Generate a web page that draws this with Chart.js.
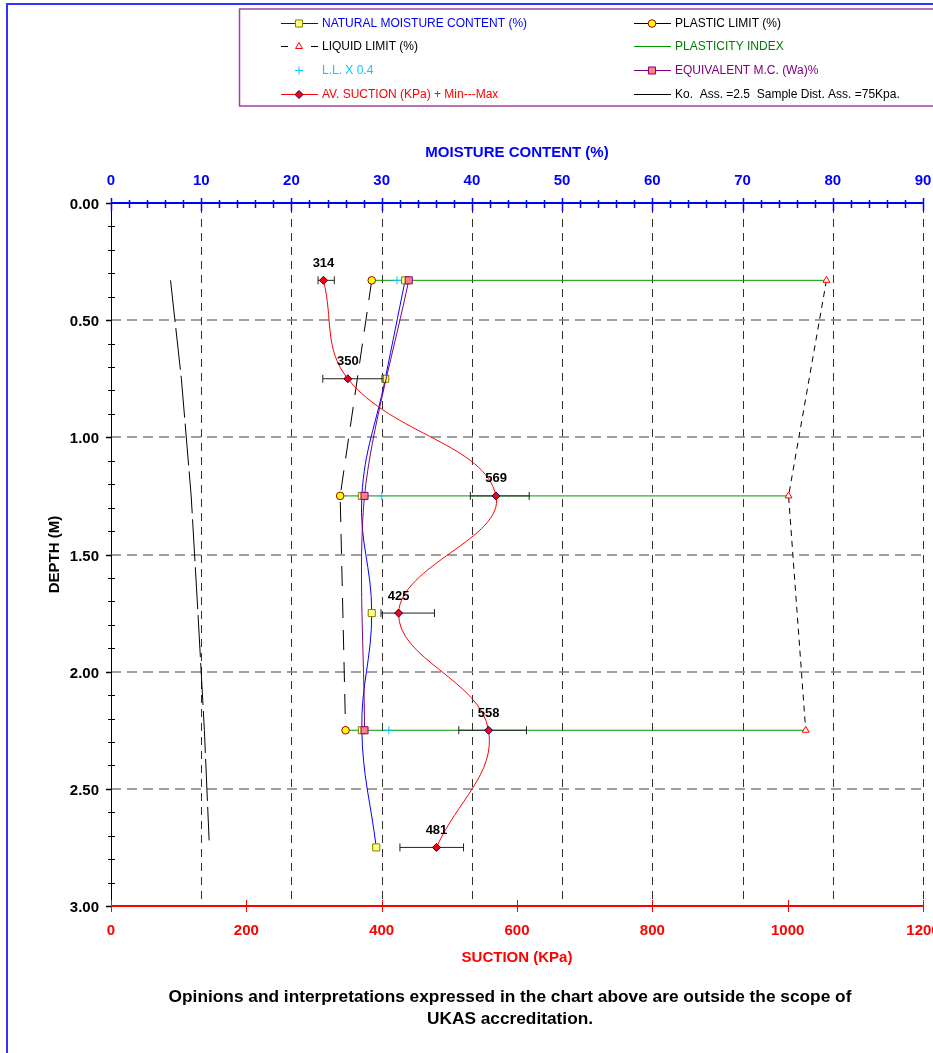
<!DOCTYPE html>
<html><head><meta charset="utf-8">
<script src="https://cdn.jsdelivr.net/npm/chart.js@4.4.0/dist/chart.umd.min.js"></script>
<style>html,body{margin:0;padding:0;background:#fff;overflow:hidden}canvas{display:block}</style>
</head><body>
<canvas id="c" width="933" height="1053"></canvas>
<script>
// ---- data ----
const DEPTHS = [0.33, 0.75, 1.25, 1.75, 2.25, 2.75];
const NMC = [32.6, 30.4, 27.8, 28.9, 27.8, 29.4];
const LIMIT_DEPTHS = [0.33, 1.25, 2.25];
const PLASTIC_LIMIT = [28.9, 25.4, 26.0];
const LIQUID_LIMIT = [79.3, 75.1, 77.0];
const LL_X04 = [31.7, 30.0, 30.8];
const EMC = [33.0, 28.1, 28.1];
const SUCTION = [314, 350, 569, 425, 558, 481];
const SUCTION_MIN = [306, 313, 531, 399, 514, 427];
const SUCTION_MAX = [330, 402, 618, 478, 614, 521];
const KO_DEPTHS = [0.33, 0.75, 1.25, 1.75, 2.25, 2.72];
const KO_SUCTION = [88, 104, 118.5, 128.5, 138, 145];
const MC_TICKS = [0, 10, 20, 30, 40, 50, 60, 70, 80, 90];
const SUCTION_TICKS = [0, 200, 400, 600, 800, 1000, 1200];
const DEPTH_TICKS = [0, 0.5, 1.0, 1.5, 2.0, 2.5, 3.0];
const DEPTH_TICK_LABELS = ['0.00', '0.50', '1.00', '1.50', '2.00', '2.50', '3.00'];

const FONT = '"Liberation Sans", Arial, sans-serif';
const pts = (xs, ys) => xs.map((v, i) => ({x: v, y: ys[i]}));

const datasets = [];
// suction (top-most)
datasets.push({label:'AV. SUCTION', xAxisID:'x2', data: pts(SUCTION, DEPTHS), showLine:true,
  borderColor:'#ff0000', borderWidth:1, tension:0.4, pointStyle:'rectRot', pointRadius:4,
  pointBackgroundColor:'#ff0000', pointBorderColor:'#000080', pointBorderWidth:1});
// error bars
DEPTHS.forEach((d, i) => {
  datasets.push({label:'range', xAxisID:'x2', data:[{x:SUCTION_MIN[i], y:d},{x:SUCTION_MAX[i], y:d}],
    showLine:true, borderColor:'#222', borderWidth:1, pointStyle:'line', rotation:90, pointRadius:4,
    pointBorderColor:'#222', pointBorderWidth:1});
});
datasets.push({label:'EMC', xAxisID:'x', data: pts(EMC, LIMIT_DEPTHS), showLine:true,
  borderColor:'#800080', borderWidth:1, tension:0.3, pointStyle:'rect', pointRadius:5,
  pointBackgroundColor:'#ff8080', pointBorderColor:'#800080', pointBorderWidth:1});
datasets.push({label:'NMC', xAxisID:'x', data: pts(NMC, DEPTHS), showLine:true,
  borderColor:'#0000ff', borderWidth:1, tension:0.4, pointStyle:'rect', pointRadius:5,
  pointBackgroundColor:'#ffff80', pointBorderColor:'#808000', pointBorderWidth:1});
datasets.push({label:'LLx0.4', xAxisID:'x', data: pts(LL_X04, LIMIT_DEPTHS), showLine:false,
  pointStyle:'cross', pointRadius:4, pointBorderColor:'#00ccff', pointBorderWidth:1});
datasets.push({label:'PL', xAxisID:'x', data: pts(PLASTIC_LIMIT, LIMIT_DEPTHS), showLine:true,
  borderColor:'#000', borderWidth:1, borderDash:[20,12], tension:0, pointStyle:'circle', pointRadius:3.8,
  pointBackgroundColor:'#ffff00', pointBorderColor:'#a00000', pointBorderWidth:1});
datasets.push({label:'LL', xAxisID:'x', data: pts(LIQUID_LIMIT, LIMIT_DEPTHS), showLine:true,
  borderColor:'#000', borderWidth:1, borderDash:[6,5], tension:0, pointStyle:'triangle', pointRadius:4,
  pointBackgroundColor:'#ffffff', pointBorderColor:'#ff0000', pointBorderWidth:1});
LIMIT_DEPTHS.forEach((d, i) => {
  datasets.push({label:'PI', xAxisID:'x', data:[{x:PLASTIC_LIMIT[i], y:d},{x:LIQUID_LIMIT[i], y:d}],
    showLine:true, borderColor:'#009900', borderWidth:1, pointRadius:0});
});
datasets.push({label:'Ko', xAxisID:'x2', data: pts(KO_SUCTION, KO_DEPTHS), showLine:true,
  borderColor:'#000', borderWidth:1, borderDash:[42,6], tension:0, pointRadius:0});

const LEGEND = [
  {x:281, y:23, text:'NATURAL MOISTURE CONTENT (%)', color:'#0000ff', line:'#0000ff', m:{s:'rect', r:5, f:'#ffff80', b:'#808000'}},
  {x:281, y:46, text:'LIQUID LIMIT (%)', color:'#000', dashes:true, m:{s:'triangle', r:4, f:'#ffffff', b:'#ff0000'}},
  {x:281, y:70, text:'L.L. X 0.4', color:'#00ccff', m:{s:'cross', r:4, f:'#00ccff', b:'#00ccff'}},
  {x:281, y:94, text:'AV. SUCTION (KPa) + Min---Max', color:'#ff0000', line:'#ff0000', m:{s:'rectRot', r:4, f:'#ff0000', b:'#000080'}},
  {x:634, y:23, text:'PLASTIC LIMIT (%)', color:'#000', line:'#000', m:{s:'circle', r:3.8, f:'#ffff00', b:'#a00000'}},
  {x:634, y:46, text:'PLASTICITY INDEX', color:'#008000', line:'#009900'},
  {x:634, y:70, text:'EQUIVALENT M.C. (Wa)%', color:'#800080', line:'#800080', m:{s:'rect', r:5, f:'#ff8080', b:'#800080'}},
  {x:634, y:94, text:'Ko.  Ass. =2.5  Sample Dist. Ass. =75Kpa.', color:'#000', line:'#000'}
];

function marker(ctx, m, x, y) {
  ctx.save();
  ctx.fillStyle = m.f; ctx.strokeStyle = m.b; ctx.lineWidth = 1; ctx.setLineDash([]);
  Chart.helpers.drawPoint(ctx, {pointStyle:m.s, radius:m.r, rotation:0, borderWidth:1}, x, y);
  ctx.restore();
}

const deco = {
  id:'deco',
  beforeDatasetsDraw(chart) {
    const {ctx, chartArea:a, scales} = chart;
    const x = scales.x, y = scales.y;
    ctx.save();
    ctx.strokeStyle = '#303030'; ctx.lineWidth = 1; ctx.setLineDash([8,6]);
    MC_TICKS.slice(1).forEach(v => {
      const px = Math.round(x.getPixelForValue(v)) + 0.5;
      ctx.beginPath(); ctx.moveTo(px, a.top + 2); ctx.lineTo(px, a.bottom); ctx.stroke();
    });
    ctx.strokeStyle = '#808080'; ctx.lineWidth = 1.5; ctx.setLineDash([10,6]);
    DEPTH_TICKS.slice(1, -1).forEach(v => {
      const py = Math.round(y.getPixelForValue(v));
      ctx.beginPath(); ctx.moveTo(a.left, py); ctx.lineTo(a.right, py); ctx.stroke();
    });
    ctx.restore();
  },
  afterDatasetsDraw(chart) {
    const {ctx, chartArea:a, scales} = chart;
    const x = scales.x, x2 = scales.x2, y = scales.y;
    ctx.save();
    ctx.setLineDash([]);
    // left axis
    ctx.strokeStyle = '#000'; ctx.lineWidth = 1;
    ctx.beginPath(); ctx.moveTo(a.left + 0.5, a.top); ctx.lineTo(a.left + 0.5, a.bottom); ctx.stroke();
    for (let k = 1; k < 30; k++) {
      if (k % 5 === 0) continue;
      const py = Math.round(y.getPixelForValue(k / 10)) + 0.5;
      ctx.beginPath(); ctx.moveTo(a.left - 3, py); ctx.lineTo(a.left + 4, py); ctx.stroke();
    }
    ctx.fillStyle = '#000'; ctx.font = 'bold 15px ' + FONT; ctx.textAlign = 'right'; ctx.textBaseline = 'middle';
    DEPTH_TICKS.forEach((v, i) => {
      const py = Math.round(y.getPixelForValue(v)) + 0.5;
      ctx.lineWidth = 1.5;
      ctx.beginPath(); ctx.moveTo(a.left - 5, py); ctx.lineTo(a.left, py); ctx.stroke();
      ctx.fillText(DEPTH_TICK_LABELS[i], a.left - 12, py + 1);
    });
    // top axis (moisture)
    ctx.strokeStyle = '#0000ff'; ctx.lineWidth = 2;
    ctx.beginPath(); ctx.moveTo(a.left, a.top); ctx.lineTo(a.right, a.top); ctx.stroke();
    ctx.lineWidth = 1.5;
    for (let v = 0; v <= 90; v += 2) {
      const px = Math.round(x.getPixelForValue(v)) + 0.5;
      const major = v % 10 === 0;
      ctx.beginPath(); ctx.moveTo(px, a.top - (major ? 5 : 3)); ctx.lineTo(px, a.top + (major ? 8 : 5)); ctx.stroke();
    }
    ctx.fillStyle = '#0000ff'; ctx.font = 'bold 15px ' + FONT; ctx.textAlign = 'center'; ctx.textBaseline = 'middle';
    MC_TICKS.forEach(v => ctx.fillText(String(v), x.getPixelForValue(v), 181));
    ctx.fillText('MOISTURE CONTENT (%)', (a.left + a.right) / 2, 153);
    // bottom axis (suction)
    ctx.strokeStyle = '#ff0000'; ctx.lineWidth = 2;
    ctx.beginPath(); ctx.moveTo(a.left, a.bottom); ctx.lineTo(a.right, a.bottom); ctx.stroke();
    ctx.lineWidth = 1;
    SUCTION_TICKS.forEach(v => {
      const px = Math.round(x2.getPixelForValue(v)) + 0.5;
      ctx.beginPath(); ctx.moveTo(px, a.bottom - 6); ctx.lineTo(px, a.bottom + 6); ctx.stroke();
    });
    ctx.fillStyle = '#ff0000'; ctx.font = 'bold 15px ' + FONT;
    SUCTION_TICKS.forEach(v => ctx.fillText(String(v), x2.getPixelForValue(v), 931));
    ctx.fillText('SUCTION (KPa)', (a.left + a.right) / 2, 958);
    // depth title
    ctx.save();
    ctx.translate(55, (a.top + a.bottom) / 2); ctx.rotate(-Math.PI / 2);
    ctx.fillStyle = '#000'; ctx.font = 'bold 15px ' + FONT;
    ctx.fillText('DEPTH (M)', 0, 0);
    ctx.restore();
    // suction value labels
    ctx.fillStyle = '#000'; ctx.font = 'bold 13px ' + FONT;
    SUCTION.forEach((s, i) => {
      ctx.fillText(String(s), x2.getPixelForValue(s), y.getPixelForValue(DEPTHS[i]) - 17);
    });
    // footer
    ctx.font = 'bold 17.3px ' + FONT;
    ctx.fillText('Opinions and interpretations expressed in the chart above are outside the scope of', 510, 997);
    ctx.fillText('UKAS accreditation.', 510, 1019);
    // frame
    ctx.strokeStyle = '#3333ff'; ctx.lineWidth = 2;
    ctx.beginPath(); ctx.moveTo(7, 1053); ctx.lineTo(7, 4); ctx.lineTo(933, 4); ctx.stroke();
    // legend box
    ctx.strokeStyle = '#a040a0'; ctx.lineWidth = 1.5;
    ctx.strokeRect(239.5, 9, 700, 97);
    ctx.font = '12px ' + FONT; ctx.textAlign = 'left';
    LEGEND.forEach(e => {
      ctx.lineWidth = 1;
      if (e.line) {
        ctx.strokeStyle = e.line;
        ctx.beginPath(); ctx.moveTo(e.x, e.y + 0.5); ctx.lineTo(e.x + 37, e.y + 0.5); ctx.stroke();
      }
      if (e.dashes) {
        ctx.strokeStyle = '#000';
        ctx.beginPath(); ctx.moveTo(e.x, e.y + 0.5); ctx.lineTo(e.x + 7, e.y + 0.5);
        ctx.moveTo(e.x + 30, e.y + 0.5); ctx.lineTo(e.x + 37, e.y + 0.5); ctx.stroke();
      }
      if (e.m) marker(ctx, e.m, e.x + 18, e.y + 0.5);
      ctx.fillStyle = e.color;
      ctx.fillText(e.text, e.x + 41, e.y + 1);
    });
    ctx.restore();
  }
};

new Chart(document.getElementById('c'), {
  type:'scatter',
  data:{datasets},
  options:{
    responsive:false, animation:false, devicePixelRatio:1,
    layout:{padding:{left:111, top:203, right:10, bottom:147}},
    plugins:{legend:{display:false}, tooltip:{enabled:false}},
    scales:{
      x:{type:'linear', axis:'x', min:0, max:90, display:false},
      x2:{type:'linear', axis:'x', min:0, max:1200, display:false},
      y:{type:'linear', axis:'y', min:0, max:3, reverse:true, display:false}
    }
  },
  plugins:[deco]
});
</script>
</body></html>
